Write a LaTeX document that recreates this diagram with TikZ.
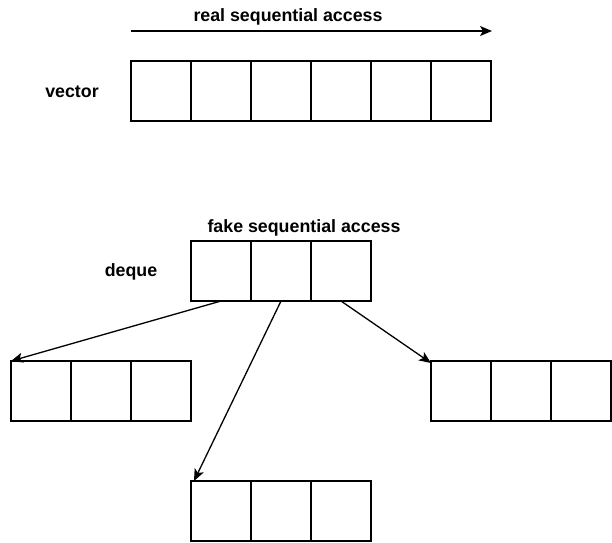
\documentclass[tikz,border=0pt]{standalone}
\usepackage{fontspec}
\setmainfont{Liberation Sans}
\usetikzlibrary{arrows.meta}
\begin{document}
\begin{tikzpicture}[x=1pt,y=-1pt,
  cell/.style={draw,line width=1.3pt,minimum width=60pt,minimum height=60pt,inner sep=0pt,outer sep=0pt},
  lbl/.style={font=\fontsize{17.8}{20}\selectfont\bfseries,inner sep=0pt},
  conn/.style={line width=1.3pt,-{Stealth[length=12pt,width=10pt,inset=3pt]}}]
\useasboundingbox (0,0) rectangle (612,542);
% vector
\foreach \i in {1,...,6} \node[cell] (v\i) at ({161+60*(\i-1)},91) {};
\coordinate (a0) at (131,31);
\coordinate (a1) at (492,31);
\draw[conn] (a0) -- (a1);
\node[lbl] (rsa) at (288,17) {real sequential access};
\node[lbl] (vec) at (72,92) {vector};
% deque
\foreach \i in {1,2,3} \node[cell] (d\i) at ({221+60*(\i-1)},271) {};
\node[lbl] (fsa) at (304,228) {fake sequential access};
\node[lbl] (deq) at (131,272) {deque};
% blocks
\foreach \i in {1,2,3} \node[cell] (l\i) at ({41+60*(\i-1)},391) {};
\foreach \i in {1,2,3} \node[cell] (r\i) at ({461+60*(\i-1)},391) {};
\foreach \i in {1,2,3} \node[cell] (b\i) at ({221+60*(\i-1)},511) {};
\draw[conn] (d1.south) -- (l1.north west);
\draw[conn] (d2.south) -- ([xshift=3pt]b1.north west);
\draw[conn] (d3.south) -- ([yshift=-2pt]r1.north west);
\end{tikzpicture}
\end{document}
